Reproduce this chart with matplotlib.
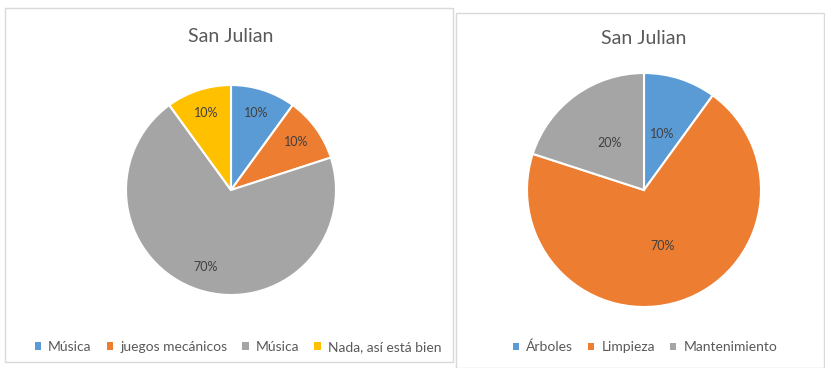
import matplotlib.pyplot as plt
from matplotlib.patches import Rectangle, Patch

plt.rcParams['font.family'] = ['Lato', 'DejaVu Sans']

title_left = 'San Julian'
labels_left = ['Música', 'juegos mecánicos', 'Música', 'Nada, así está bien']
values_left = [10, 10, 70, 10]
colors_left = ['#5B9BD5', '#ED7D31', '#A5A5A5', '#FFC000']

title_right = 'San Julian'
labels_right = ['Árboles', 'Limpieza', 'Mantenimiento']
values_right = [10, 70, 20]
colors_right = ['#5B9BD5', '#ED7D31', '#A5A5A5']

W, H = 825, 368
fig = plt.figure(figsize=(W / 100, H / 100), dpi=100)


def px_axes(cx, cy, r):
    return fig.add_axes([(cx - r) / W, 1 - (cy + r) / H, 2 * r / W, 2 * r / H])


def draw_pie(cx, cy, r, values, colors, labels, title, pctdist, title_y, legend_y, legend_x, box):
    # chart frame
    bx0, by0, bx1, by1 = box
    fig.patches.append(Rectangle((bx0 / W, 1 - by1 / H), (bx1 - bx0) / W, (by1 - by0) / H,
                                 transform=fig.transFigure, fill=False,
                                 edgecolor='#D9D9D9', linewidth=1.0))
    ax = px_axes(cx, cy, r)
    ax.pie(values, colors=colors, startangle=90, counterclock=False,
           autopct='%1.0f%%', pctdistance=pctdist,
           wedgeprops=dict(edgecolor='white', linewidth=1.5),
           textprops=dict(color='#404040', fontsize=9))
    ax.set_xlim(-1, 1)
    ax.set_ylim(-1, 1)
    ax.set_aspect('auto')
    ax.axis('off')
    fig.text(cx / W, 1 - title_y / H, title, ha='center', va='center',
             fontsize=14, color='#595959')
    handles = [Patch(facecolor=c, edgecolor='none') for c in colors]
    fig.legend(handles, labels, loc='center', bbox_to_anchor=(legend_x / W, 1 - legend_y / H),
               ncol=len(labels), frameon=False, fontsize=10, labelcolor='#595959',
               handlelength=0.45, handleheight=0.45, handletextpad=0.5, columnspacing=1.1)


draw_pie(231, 190, 105, values_left, colors_left, labels_left, title_left, 0.77,
         37, 347, 238, (5, 8, 453, 362))
draw_pie(644, 190, 117, values_right, colors_right, labels_right, title_right, 0.5,
         38, 347, 645, (456, 13, 824, 368))

fig.savefig('out.png', dpi=100)
